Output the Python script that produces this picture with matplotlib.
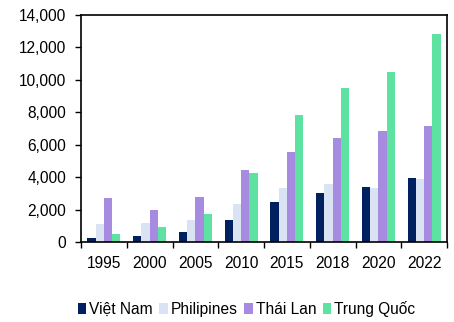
import matplotlib
matplotlib.use('Agg')
import matplotlib.pyplot as plt
import numpy as np

# --- data ---
years = ['1995', '2000', '2005', '2010', '2015', '2018', '2020', '2022']
series_names = ['Việt Nam', 'Philipines', 'Thái Lan', 'Trung Quốc']
viet_nam = [250, 350, 600, 1350, 2450, 3000, 3400, 3970]
philipines = [1140, 1160, 1350, 2360, 3300, 3580, 3300, 3890]
thai_lan = [2740, 1960, 2800, 4450, 5540, 6420, 6870, 7180]
trung_quoc = [500, 910, 1750, 4280, 7840, 9490, 10480, 12830]

colors = ['#002060', '#DAE3F3', '#A78BE0', '#5EE2A2']

plt.rcParams['font.family'] = ['Liberation Sans', 'DejaVu Sans']
FS = 11.2

fig = plt.figure(figsize=(4.54, 3.22), dpi=100)
ax = fig.add_axes([81 / 454, 1 - 242 / 322, 366 / 454, 227 / 322])

x = np.arange(len(years))
width = 0.18
all_series = [viet_nam, philipines, thai_lan, trung_quoc]
for i, (vals, name, col) in enumerate(zip(all_series, series_names, colors)):
    ax.bar(x + (i - 1.5) * width, vals, width, color=col, label=name,
           edgecolor='none')

ax.set_xlim(-0.5, len(years) - 0.5)
ax.set_ylim(0, 14000)
ax.set_yticks(np.arange(0, 14001, 2000))
ax.set_yticklabels([f'{v:,}' for v in range(0, 14001, 2000)])

# category labels centred, ticks on the group boundaries
ax.set_xticks(x)
ax.set_xticklabels(years)
ax.set_xticks(np.arange(-0.5, len(years), 1), minor=True)
ax.tick_params(axis='x', which='major', length=0, pad=10)
ax.tick_params(axis='x', which='minor', length=4, width=1, direction='out')
ax.tick_params(axis='y', length=4, width=1, direction='out', pad=6.5)
ax.tick_params(labelsize=FS, colors='black')

for sp in ax.spines.values():
    sp.set_linewidth(1.2)
    sp.set_color('black')

ax.legend(loc='center', bbox_to_anchor=(246.5 / 454, 1 - 309 / 322),
          bbox_transform=fig.transFigure, ncol=4, frameon=False,
          fontsize=FS, handlelength=0.55, handleheight=0.75,
          handletextpad=0.2, columnspacing=0.4, borderpad=0)

fig.savefig('out.png', dpi=100)
